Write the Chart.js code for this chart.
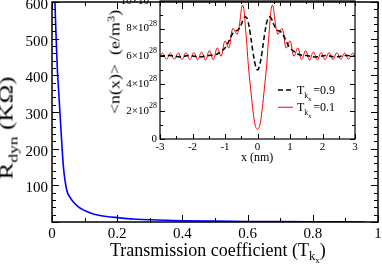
<!DOCTYPE html>
<html>
<head>
<meta charset="utf-8">
<script src="https://cdn.jsdelivr.net/npm/chart.js@4.4.1/dist/chart.umd.min.js"></script>
<style>
  html, body { margin: 0; padding: 0; background: #fff; }
  #wrap { position: relative; width: 382px; height: 265px; overflow: hidden; font-family: "Liberation Serif", serif; color: #000; }
  canvas { position: absolute; top: 0; }
  #mainChart { left: 0; }
  #insetChart { left: 100px; }
  .ttl { position: absolute; white-space: pre; line-height: 1; }
  .ttl sub { font-size: 70%; vertical-align: -0.35em; line-height: 0; }
  .ttl sup { font-size: 70%; vertical-align: 0.5em; line-height: 0; }
  .rot { transform: translate(-50%, -50%) rotate(-90deg); }
</style>
</head>
<body>
<div id="wrap">
  <canvas id="mainChart" width="382" height="265"></canvas>
  <canvas id="insetChart" width="282" height="170"></canvas>
  <div class="ttl" id="xTitle" style="left:110px; top:241px; font-size:18px;">Transmission coefficient (T<sub>k<sub>x</sub></sub>)</div>
  <div class="ttl rot" id="yTitle" data-len="103" style="left:6px; top:128px; font-size:19px;">R<sub>dyn</sub> (KΩ)</div>
  <div class="ttl" id="insetXTitle" style="left:241px; top:151px; font-size:12px;">x (nm)</div>
  <div class="ttl rot" id="insetYTitle" data-len="104" style="left:115px; top:62px; font-size:15px;">&lt;n(x)&gt;  (e/m<sup>3</sup>)</div>
</div>
<script>
// main panel: dynamic resistance vs transmission coefficient
const transCoef = [0.009, 0.012, 0.016, 0.022, 0.028, 0.035, 0.045, 0.055, 0.065, 0.08, 0.096, 0.12, 0.14, 0.168, 0.2, 0.25, 0.3, 0.4, 0.5, 0.6, 0.7, 0.8, 0.9, 0.96];
const rDyn = [600, 518, 425, 334, 244, 151, 88, 68, 55, 42, 33, 24, 19, 15, 12, 8, 6, 3.5, 2.3, 1.5, 1, 0.6, 0.3, 0.1];

// inset: electron density (units of 1e28 e/m^3) vs position
const xHigh = [-3, -2.7, -2.4, -2.1, -1.8, -1.5, -1.3, -1.15, -1.0, -0.9, -0.8, -0.7, -0.6, -0.5, -0.42, -0.36, -0.3, -0.22, -0.14, -0.07, 0,
               0.07, 0.14, 0.22, 0.3, 0.36, 0.42, 0.5, 0.6, 0.7, 0.8, 0.9, 1.0, 1.15, 1.3, 1.5, 1.8, 2.1, 2.4, 2.7, 3];
const nHigh = [6.0, 6.05, 5.95, 6.05, 5.95, 6.05, 6.1, 6.3, 6.6, 7.0, 7.5, 7.8, 7.9, 8.3, 8.75, 8.85, 8.6, 7.6, 6.3, 5.4, 5.0,
               5.4, 6.3, 7.6, 8.6, 8.85, 8.75, 8.3, 7.9, 7.8, 7.5, 7.0, 6.6, 6.3, 6.1, 6.05, 5.95, 6.05, 5.95, 6.05, 6.0];

const xLow = [-3, -2.92, -2.8, -2.68, -2.56, -2.44, -2.32, -2.2, -2.08, -1.96, -1.84, -1.72, -1.6, -1.48, -1.36, -1.24, -1.12, -1.0, -0.88, -0.76, -0.62, -0.46,
              -0.35, -0.28, -0.2, -0.12, -0.06, 0, 0.06, 0.12, 0.2, 0.28, 0.35,
              0.46, 0.62, 0.76, 0.88, 1.0, 1.12, 1.24, 1.36, 1.48, 1.6, 1.72, 1.84, 1.96, 2.08, 2.2, 2.32, 2.44, 2.56, 2.68, 2.8, 2.92, 3];
const nLow = [6.0, 6.22, 5.78, 6.22, 5.78, 6.24, 5.76, 6.25, 5.75, 6.26, 5.74, 6.3, 5.72, 6.4, 5.75, 6.6, 6.0, 7.1, 6.6, 8.0, 7.6, 9.7,
              7.5, 5.3, 3.4, 1.7, 0.9, 0.7, 0.9, 1.7, 3.4, 5.3, 7.5,
              9.7, 7.6, 8.0, 6.6, 7.1, 6.0, 6.6, 5.75, 6.4, 5.72, 6.3, 5.74, 6.26, 5.75, 6.25, 5.76, 6.24, 5.78, 6.22, 5.78, 6.22, 6.0];

const serif = '"Liberation Serif", "Times New Roman", serif';

// box around the plot with inward ticks on all four sides
const tickFrame = {
  id: 'tickFrame',
  afterDatasetsDraw(chart, args, o) {
    const { ctx, chartArea: a, scales } = chart;
    ctx.save();
    ctx.strokeStyle = '#000';
    ctx.lineWidth = o.lineWidth;
    ctx.beginPath();
    const xs = scales.x, ys = scales.y;
    for (let v = xs.min; v <= xs.max + 1e-9; v += o.xMinor) {
      const p = Math.round(xs.getPixelForValue(v)) + 0.5;
      const major = Math.abs(v / o.xMajor - Math.round(v / o.xMajor)) < 1e-6;
      const len = major ? o.major : o.minor;
      ctx.moveTo(p, a.bottom); ctx.lineTo(p, a.bottom - len);
      ctx.moveTo(p, a.top); ctx.lineTo(p, a.top + len);
    }
    for (let v = ys.min; v <= ys.max + 1e-9; v += o.yMinor) {
      const p = Math.round(ys.getPixelForValue(v)) + 0.5;
      const major = Math.abs(v / o.yMajor - Math.round(v / o.yMajor)) < 1e-6;
      const len = major ? o.major : o.minor;
      ctx.moveTo(a.left, p); ctx.lineTo(a.left + len, p);
      ctx.moveTo(a.right, p); ctx.lineTo(a.right - len, p);
    }
    ctx.stroke();
    ctx.lineWidth = o.frameWidth;
    ctx.strokeRect(a.left, a.top, a.right - a.left, a.bottom - a.top);
    ctx.restore();
  }
};

// y labels of the inset as  N x 10^28
const powerLabels = {
  id: 'powerLabels',
  afterDraw(chart) {
    const { ctx, chartArea: a, scales } = chart;
    const ys = scales.y;
    ctx.save();
    ctx.fillStyle = '#000';
    ctx.textBaseline = 'middle';
    ys.ticks.forEach(t => {
      const y = ys.getPixelForValue(t.value);
      const right = a.left - 3;
      if (t.value === 0) {
        ctx.font = '11px ' + serif;
        ctx.textAlign = 'right';
        ctx.fillText('0', right, y);
        return;
      }
      ctx.font = '11px ' + serif;
      const base = t.value + '×10';
      const wBase = ctx.measureText(base).width;
      ctx.font = '8px ' + serif;
      const wSup = ctx.measureText('28').width;
      ctx.textAlign = 'left';
      const x0 = right - wBase - wSup;
      ctx.font = '11px ' + serif;
      ctx.fillText(base, x0, y);
      ctx.font = '8px ' + serif;
      ctx.fillText('28', x0 + wBase, y - 5);
    });
    ctx.restore();
  }
};

// inset legend: sample line + T_kx=value
const insetLegend = {
  id: 'insetLegend',
  afterDraw(chart) {
    const { ctx, chartArea: a } = chart;
    const w = a.right - a.left, h = a.bottom - a.top;
    const labels = ['=0.9', '=0.1'];
    const rows = [0.645, 0.77];
    ctx.save();
    chart.data.datasets.forEach((ds, i) => {
      const y = a.top + rows[i] * h;
      const x0 = a.left + 0.605 * w;
      ctx.strokeStyle = ds.borderColor;
      ctx.lineWidth = ds.borderWidth;
      ctx.setLineDash(ds.borderDash || []);
      ctx.beginPath();
      ctx.moveTo(x0, y); ctx.lineTo(x0 + 15, y);
      ctx.stroke();
      ctx.setLineDash([]);
      ctx.fillStyle = '#000';
      ctx.textBaseline = 'alphabetic';
      ctx.textAlign = 'left';
      let tx = x0 + 19;
      ctx.font = '12px ' + serif;
      ctx.fillText('T', tx, y + 4);
      tx += ctx.measureText('T').width;
      ctx.font = '8px ' + serif;
      ctx.fillText('k', tx, y + 8);
      const wk = ctx.measureText('k').width;
      ctx.font = '6px ' + serif;
      ctx.fillText('x', tx + wk, y + 11);
      ctx.font = '12px ' + serif;
      ctx.fillText(labels[i], tx + wk + 5, y + 4);
    });
    ctx.restore();
  }
};

new Chart(document.getElementById('mainChart'), {
  type: 'line',
  data: {
    datasets: [{
      data: transCoef.map((t, i) => ({ x: t, y: rDyn[i] })),
      borderColor: '#0000ff',
      borderWidth: 1.6,
      pointRadius: 0,
      cubicInterpolationMode: 'monotone',
      fill: false
    }]
  },
  options: {
    responsive: false,
    animation: false,
    devicePixelRatio: 1,
    layout: { padding: { left: 0, top: 2, right: 4, bottom: 0 } },
    plugins: {
      legend: { display: false },
      tooltip: { enabled: false },
      tickFrame: { xMajor: 0.2, xMinor: 0.1, yMajor: 100, yMinor: 20, major: 7, minor: 4, lineWidth: 1, frameWidth: 1.5 }
    },
    scales: {
      x: {
        type: 'linear', min: 0, max: 1,
        grid: { display: false, drawTicks: false }, border: { display: false },
        ticks: { stepSize: 0.2, color: '#000', padding: 3, maxRotation: 0, autoSkip: false, font: { family: serif, size: 15 },
                 callback: v => String(Math.round(v * 10) / 10) },
        afterFit(s) { s.height = 43; s.paddingLeft = 0; s.paddingRight = 0; }
      },
      y: {
        min: 0, max: 600,
        grid: { display: false, drawTicks: false }, border: { display: false },
        ticks: { stepSize: 100, color: '#000', padding: 4, labelOffset: 3, font: { family: serif, size: 15 },
                 callback: v => v === 0 ? '' : v },
        afterFit(s) { s.width = 52; s.paddingTop = 0; s.paddingBottom = 0; }
      }
    }
  },
  plugins: [tickFrame]
});

new Chart(document.getElementById('insetChart'), {
  type: 'line',
  data: {
    datasets: [
      {
        label: 'T=0.9',
        data: xHigh.map((x, i) => ({ x: x, y: nHigh[i] })),
        borderColor: '#000000',
        borderWidth: 1.5,
        borderDash: [5, 3],
        pointRadius: 0,
        tension: 0.4,
        fill: false
      },
      {
        label: 'T=0.1',
        data: xLow.map((x, i) => ({ x: x, y: nLow[i] })),
        borderColor: '#ff0000',
        borderWidth: 1,
        pointRadius: 0,
        tension: 0.4,
        fill: false
      }
    ]
  },
  options: {
    responsive: false,
    animation: false,
    devicePixelRatio: 1,
    layout: { padding: { left: 0, top: 1, right: 27, bottom: 0 } },
    plugins: {
      legend: { display: false },
      tooltip: { enabled: false },
      tickFrame: { xMajor: 1, xMinor: 0.5, yMajor: 2, yMinor: 1, major: 5, minor: 3, lineWidth: 1, frameWidth: 1.2 }
    },
    scales: {
      x: {
        type: 'linear', min: -3, max: 3,
        grid: { display: false, drawTicks: false }, border: { display: false },
        ticks: { stepSize: 1, color: '#000', padding: 2, maxRotation: 0, autoSkip: false, font: { family: serif, size: 11 } },
        afterFit(s) { s.height = 31; s.paddingLeft = 0; s.paddingRight = 0; }
      },
      y: {
        min: 0, max: 10,
        grid: { display: false, drawTicks: false }, border: { display: false },
        ticks: { stepSize: 2, display: false },
        afterFit(s) { s.width = 60; s.paddingTop = 0; s.paddingBottom = 0; }
      }
    }
  },
  plugins: [tickFrame, powerLabels, insetLegend]
});

// the rotated titles are drawn wide in the original: stretch them along the text to its length
function fitRotated() {
  document.querySelectorAll('.rot').forEach(el => {
    const k = Number(el.dataset.len) / el.offsetWidth;
    el.style.transform = 'translate(-50%, -50%) rotate(-90deg) scaleX(' + k.toFixed(3) + ')';
  });
}
fitRotated();
if (document.fonts) document.fonts.ready.then(fitRotated);
</script>
</body>
</html>
